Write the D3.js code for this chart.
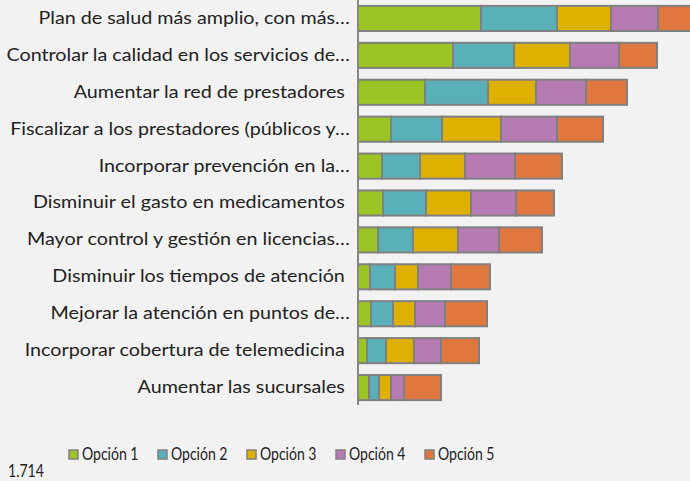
<!DOCTYPE html>
<html>
<head>
<meta charset="utf-8">
<script src="https://cdn.jsdelivr.net/npm/d3@7"></script>
<style>
  body { margin: 0; background: #f2f2f2; }
  svg { display: block; font-family: Lato, sans-serif; }
  text { white-space: pre; }
</style>
</head>
<body>
<svg id="chart"></svg>
<script>
const categories = [
  "Plan de salud más amplio, con más…",
  "Controlar la calidad en los servicios de…",
  "Aumentar la red de prestadores ",
  "Fiscalizar a los prestadores (públicos y…",
  "Incorporar prevención en la…",
  "Disminuir el gasto en medicamentos ",
  "Mayor control y gestión en licencias…",
  "Disminuir los tiempos de atención ",
  "Mejorar la atención en puntos de…",
  "Incorporar cobertura de telemedicina ",
  "Aumentar las sucursales ",
];
const seriesNames = ["Opción 1", "Opción 2", "Opción 3", "Opción 4", "Opción 5"];
const opcion1 = [123, 95, 67, 33, 24, 25, 20, 12, 13, 9, 11];
const opcion2 = [76, 61, 63, 51, 38, 43, 35, 25, 22, 19, 10];
const opcion3 = [54, 56, 48, 59, 45, 45, 45, 23, 22, 28, 12];
const opcion4 = [47, 49, 50, 56, 50, 45, 41, 33, 30, 27, 13];
const opcion5 = [45, 38, 41, 46, 47, 38, 43, 39, 42, 38, 37];
const colors = ["#9bc524", "#5ab0b8", "#deb000", "#b77bb4", "#e0773e"];
const cornerNote = "1.714";

const width = 690;
const height = 481;
const x0 = 358;

const svg = d3.select("#chart").attr("width", width).attr("height", height);

const allSeries = [opcion1, opcion2, opcion3, opcion4, opcion5];
const rows = categories.map((c, i) => {
  const r = { cat: c };
  seriesNames.forEach((s, j) => (r[s] = allSeries[j][i]));
  return r;
});
const stacked = d3.stack().keys(seriesNames)(rows);

const x = d3.scaleLinear().domain([0, 340]).range([x0, x0 + 340]);
const y = d3.scaleBand().domain(categories).range([0, 406]).paddingInner(0.32).paddingOuter(0.16);

const color = d3.scaleOrdinal().domain(seriesNames).range(colors);

svg.append("g")
  .selectAll("g")
  .data(stacked)
  .join("g")
  .attr("fill", (d) => color(d.key))
  .selectAll("rect")
  .data((d) => d)
  .join("rect")
  .attr("x", (d) => x(d[0]))
  .attr("y", (d) => y(d.data.cat))
  .attr("width", (d) => x(d[1]) - x(d[0]))
  .attr("height", y.bandwidth())
  .attr("stroke", "#808080")
  .attr("stroke-width", 2);

// category axis (labels are stretched a bit wider, like the original)
const yAxis = svg.append("g")
  .attr("transform", `translate(${x0},0)`)
  .call(d3.axisLeft(y).tickSize(0).tickPadding(7));
yAxis.select(".domain").attr("stroke", "#868686").attr("stroke-width", 2).attr("d", "M0,0V405");
yAxis.selectAll("text")
  .attr("font-family", "Lato, sans-serif")
  .attr("font-size", 17)
  .attr("transform", "scale(1.16,1)")
  .attr("fill", "#222");

// legend (narrow text)
const legendX = [69, 158, 247, 336, 425];
const legend = svg.append("g")
  .selectAll("g")
  .data(seriesNames)
  .join("g")
  .attr("transform", (d, i) => `translate(${legendX[i]},450)`);
legend.append("rect")
  .attr("width", 9)
  .attr("height", 9)
  .attr("fill", (d) => color(d))
  .attr("stroke", "#808080")
  .attr("stroke-width", 1.5);
legend.append("text")
  .attr("transform", "translate(13,10) scale(0.85,1)")
  .attr("font-size", 16.5)
  .attr("fill", "#222")
  .text((d) => d);

svg.append("text")
  .attr("transform", "translate(8,477) scale(0.85,1)")
  .attr("font-size", 16.5)
  .attr("fill", "#222")
  .text(cornerNote);
</script>
</body>
</html>
